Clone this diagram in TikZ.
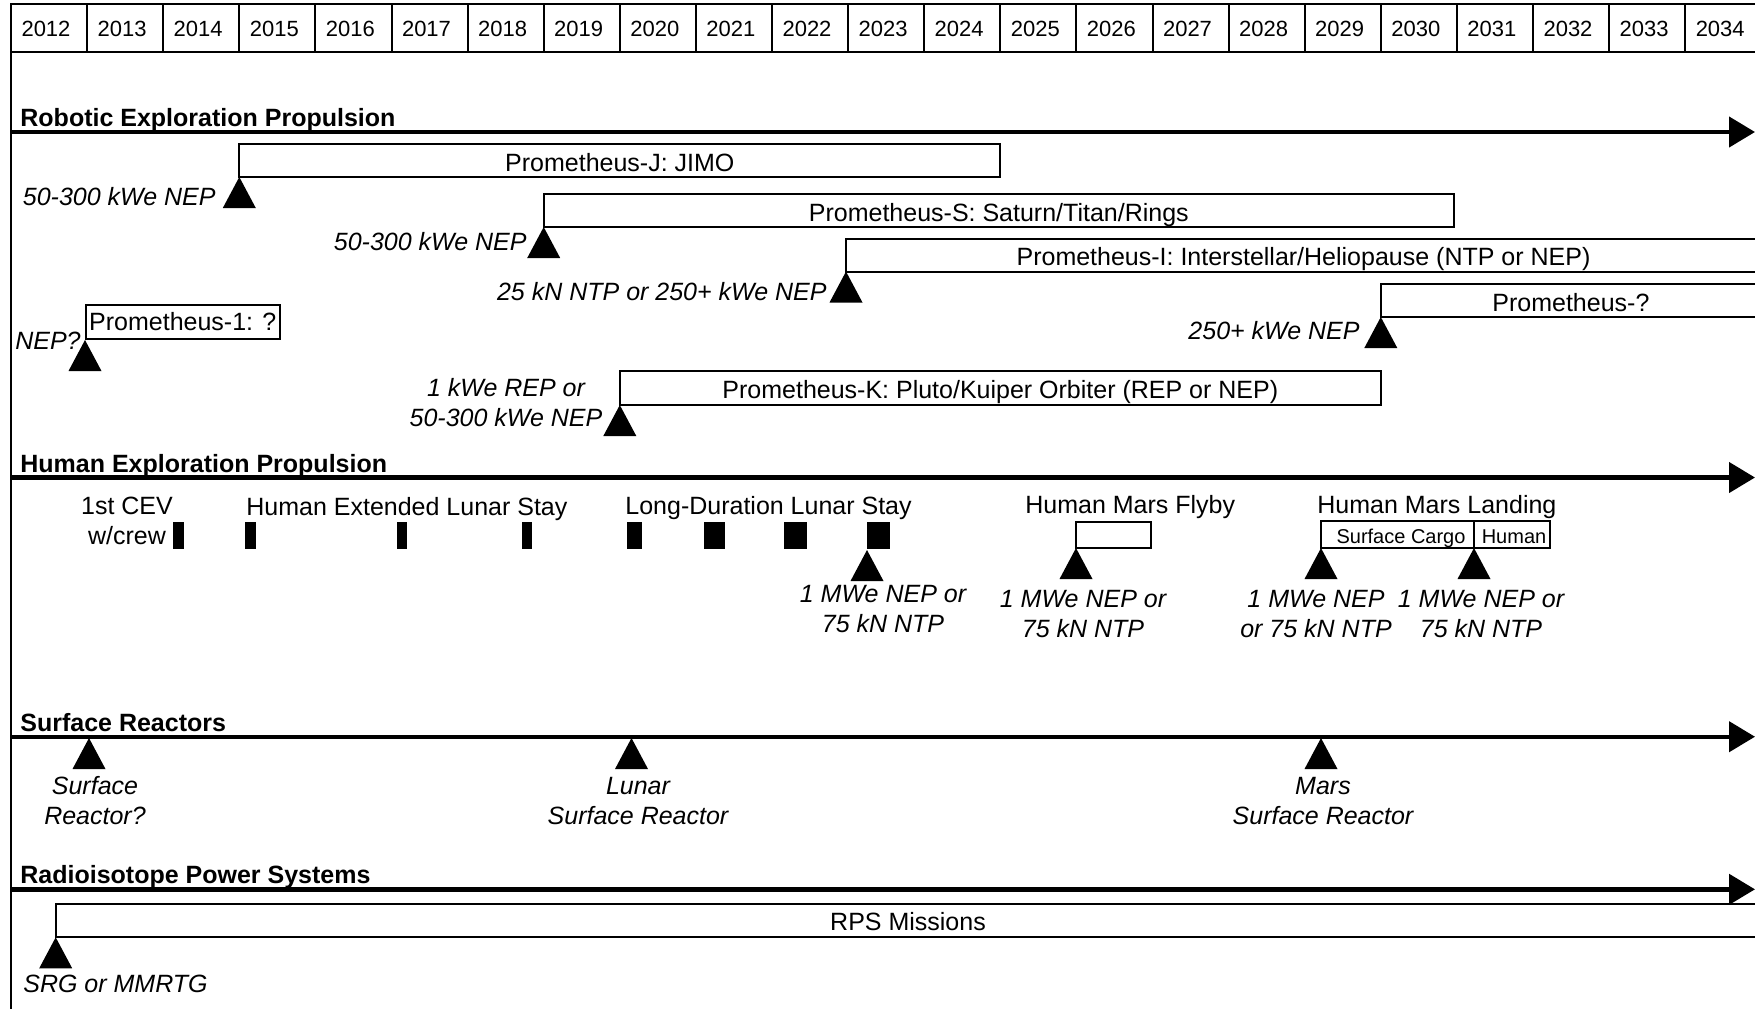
\documentclass[tikz,border=0pt]{standalone}
\usepackage{fontspec}
\setmainfont{Liberation Sans}
\usetikzlibrary{arrows.meta}
\tikzset{
  rule/.style={line width=1pt},
  track/.style={line width=2.2pt,-{Triangle[length=13pt,width=15pt]}},
  phase/.style={draw,line width=1pt,fill=white},
  yr/.style={font=\fontsize{11}{13}\selectfont},
  txt/.style={font=\fontsize{12.5}{15}\selectfont,inner sep=0pt},
  subtxt/.style={font=\fontsize{10}{12}\selectfont,inner sep=0pt},
  note/.style={font=\fontsize{12.5}{15}\selectfont\itshape,inner sep=0pt,align=center},
  sect/.style={font=\fontsize{12.5}{15}\selectfont\bfseries,inner sep=0pt,anchor=base west}
}
\begin{document}
\begin{tikzpicture}[x=0.5pt,y=-0.5pt]
\useasboundingbox (0,0) rectangle (1755,1009);
\clip (0,0) rectangle (1755,1009);
\draw[rule] (11,4) rectangle (1761,52);
\foreach \i in {0,...,22} {
  \draw[rule] ({11+76.1*\i},4) -- ({11+76.1*\i},52);
  \pgfmathtruncatemacro{\yy}{2012+\i}
  \node[yr] (y\i) at ({46+76.1*\i},29) {\yy};
}
\draw[rule] (11,4) -- (11,1009);

\draw[track] (11,132) -- (1755,132);
\node[sect] (rob) at (20,126) {Robotic Exploration Propulsion};
\draw[phase] (239.3,144) rectangle (1000.3,177);
\node[txt,anchor=base] (jimo) at (619.8,171) {Prometheus-J: JIMO};
\draw[phase] (543.7,194) rectangle (1454,227);
\node[txt,anchor=base] (sat) at (998.8,221) {Prometheus-S: Saturn/Titan/Rings};
\draw[phase] (846,238.5) rectangle (1761,271.5);
\node[txt,anchor=base] (ism) at (1303.5,265.5) {Prometheus-I: Interstellar/Heliopause (NTP or NEP)};
\draw[phase] (1380.8,284) rectangle (1761,317);
\node[txt,anchor=base] (pq) at (1570.9,311) {Prometheus-?};
\node[phase,txt,inner xsep=1.6pt,minimum height=17pt,anchor=south west] (p1) at (85,340) {Prometheus-1: ?};
\draw[phase] (619.8,371) rectangle (1380.8,405);
\node[txt,anchor=base] (kpr) at (1000.3,398.5) {Prometheus-K: Pluto/Kuiper Orbiter (REP or NEP)};
\node[note,anchor=east] (n1) at (216,197) {50-300 kWe NEP};
\node[note,anchor=east] (n2) at (527,242) {50-300 kWe NEP};
\node[note,anchor=east] (n3) at (827,292) {25 kN NTP or 250+ kWe NEP};
\node[note,anchor=east] (n4) at (1360,331) {250+ kWe NEP};
\node[note,anchor=east] (n5) at (81,341) {NEP?};
\node[note] (n6) at (506,403) {1 kWe REP or\\50-300 kWe NEP};

\draw[track] (11,477.5) -- (1755,477.5);
\node[sect] (hum) at (20,472) {Human Exploration Propulsion};
\node[txt,align=center] (cev) at (127,521) {1st CEV\\w/crew};
\node[txt,anchor=base west] (ext) at (246,515) {Human Extended Lunar Stay};
\node[txt,anchor=base west] (lds) at (625,514) {Long-Duration Lunar Stay};
\node[txt,anchor=base west] (fly) at (1025,513) {Human Mars Flyby};
\node[txt,anchor=base west] (land) at (1317,513) {Human Mars Landing};
\foreach \a/\b in {173/184,245/256,397/407,522/532,627/642,704/725,784/807,867/890}
  \fill (\a,522) rectangle (\b,549);
\draw[phase] (1076,522) rectangle (1151,548);
\draw[phase] (1321,521) rectangle (1550,548);
\draw[rule] (1474,521) -- (1474,548);
\node[subtxt,anchor=base] (cargo) at (1401,543.5) {Surface Cargo};
\node[subtxt,anchor=base] (crew) at (1514,543.5) {Human};
\node[note] (m1) at (883,609) {1 MWe NEP or\\75 kN NTP};
\node[note] (m2) at (1083,614) {1 MWe NEP or\\75 kN NTP};
\node[note] (m3) at (1316,614) {1 MWe NEP\\or 75 kN NTP};
\node[note] (m4) at (1481,614) {1 MWe NEP or\\75 kN NTP};

\draw[track] (11,736.7) -- (1755,736.7);
\node[sect] (srf) at (20,731) {Surface Reactors};
\node[note] (r1) at (95,801) {Surface\\Reactor?};
\node[note] (r2) at (638,801) {Lunar\\Surface Reactor};
\node[note] (r3) at (1323,801) {Mars\\Surface Reactor};

\draw[track] (11,889.3) -- (1755,889.3);
\node[sect] (rps) at (20,883) {Radioisotope Power Systems};
\draw[phase] (55.7,904) rectangle (1761,937.3);
\node[txt,anchor=base] (rpsm) at (908,930) {RPS Missions};
\node[note,anchor=west] (srg) at (23,984) {SRG or MMRTG};

\foreach \x/\y in {239.3/177,543.7/227,846/271.5,1380.8/317,85/340,619.8/405,867/550,1076/548,1321/548,1474/548,89/738,631.5/738,1321/738,55.7/937.3}
  \fill (\x,\y) -- ++(-8.25pt,-15.5pt) -- ++(16.5pt,0pt) -- cycle;
\end{tikzpicture}
\end{document}
